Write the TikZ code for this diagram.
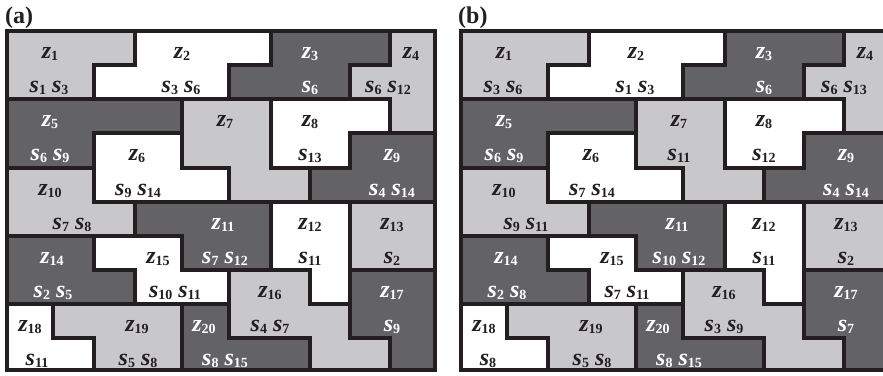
\documentclass[tikz,border=0pt]{standalone}
\usepackage{fontspec}
\setmainfont{Liberation Serif}
\definecolor{ink}{RGB}{35,31,32}
\definecolor{cellLight}{RGB}{200,200,202}
\definecolor{cellDark}{RGB}{99,99,101}

% letter with subscript
\newcommand\zsub[2]{\textit{#1}\raisebox{-2.5pt}{\fontsize{14}{14}\selectfont #2}}
\newcommand\zlab[1]{\zsub{z}{#1}}
\newcommand\slab[1]{\zsub{s}{#1}}

% grid corners of one panel
\newcommand\setgrid{%
  \foreach \c/\x in {0/7,1/53,2/94,3/135,4/182,5/229,6/271,7/310,8/350,9/390,10/435}
    \foreach \r/\y in {0/31,1/65,2/99,3/133,4/168,5/202,6/236,7/270,8/304,9/338,10/370}
      \coordinate (g\c-\r) at (\x,\y);}

% zones z1..z20
\def\regions{%
  cellLight/(g0-0)--(g3-0)--(g3-1)--(g2-1)--(g2-2)--(g0-2),
  white/(g3-0)--(g6-0)--(g6-1)--(g5-1)--(g5-2)--(g2-2)--(g2-1)--(g3-1),
  cellDark/(g6-0)--(g9-0)--(g9-1)--(g8-1)--(g8-2)--(g5-2)--(g5-1)--(g6-1),
  cellLight/(g9-0)--(g10-0)--(g10-3)--(g9-3)--(g9-2)--(g8-2)--(g8-1)--(g9-1),
  cellDark/(g0-2)--(g4-2)--(g4-3)--(g2-3)--(g2-4)--(g0-4),
  white/(g2-3)--(g4-3)--(g4-4)--(g5-4)--(g5-5)--(g2-5),
  cellLight/(g4-2)--(g6-2)--(g6-4)--(g7-4)--(g7-5)--(g5-5)--(g5-4)--(g4-4),
  white/(g6-2)--(g9-2)--(g9-3)--(g8-3)--(g8-4)--(g6-4),
  cellDark/(g8-3)--(g10-3)--(g10-5)--(g7-5)--(g7-4)--(g8-4),
  cellLight/(g0-4)--(g2-4)--(g2-5)--(g3-5)--(g3-6)--(g0-6),
  cellDark/(g3-5)--(g6-5)--(g6-7)--(g4-7)--(g4-6)--(g3-6),
  white/(g6-5)--(g8-5)--(g8-8)--(g7-8)--(g7-7)--(g6-7),
  cellLight/(g8-5)--(g10-5)--(g10-7)--(g8-7),
  cellDark/(g0-6)--(g2-6)--(g2-7)--(g3-7)--(g3-8)--(g0-8),
  white/(g2-6)--(g4-6)--(g4-7)--(g5-7)--(g5-8)--(g3-8)--(g3-7)--(g2-7),
  cellLight/(g5-7)--(g7-7)--(g7-8)--(g8-8)--(g8-9)--(g9-9)--(g9-10)--(g7-10)--(g7-9)--(g5-9),
  cellDark/(g8-7)--(g10-7)--(g10-10)--(g9-10)--(g9-9)--(g8-9),
  white/(g0-8)--(g1-8)--(g1-9)--(g2-9)--(g2-10)--(g0-10),
  cellLight/(g1-8)--(g4-8)--(g4-10)--(g2-10)--(g2-9)--(g1-9),
  cellDark/(g4-8)--(g5-8)--(g5-9)--(g7-9)--(g7-10)--(g4-10)}

\newcommand\drawmap{%
  \foreach \shade/\pts in \regions {\fill[\shade] \pts -- cycle;}
  \foreach \shade/\pts in \regions {\draw[wall] \pts -- cycle;}}

% zone names, same in both panels
\newcommand\zlabels[1]{%
  \foreach \n/\x/\y/\sty in {1/50/58/lbl,2/182/58/lbl,3/310/58/lbldark,4/411/58/lbl,
      5/50/126/lbldark,6/137/160/lbl,7/225/126/lbl,8/310/126/lbl,9/392/160/lbldark,
      10/50/195/lbl,11/223/229/lbldark,12/310/229/lbl,13/392/229/lbl,
      14/52/263/lbldark,15/158/263/lbl,16/270/297/lbl,17/392/297/lbldark,
      18/30/331/lbl,19/137/331/lbl,20/204/331/lbldark}
    \node[\sty] (#1-z\n) at (\x,\y) {\zlab{\n}};}

\begin{document}
\begin{tikzpicture}[x=1pt,y=-1pt,
  wall/.style={draw=ink,line width=4.6pt},
  lbl/.style={anchor=base,inner sep=0pt,text=ink,font=\fontsize{24}{24}\selectfont\bfseries},
  lbldark/.style={lbl,text=white},
  paneltag/.style={anchor=base west,inner sep=0pt,text=ink,font=\fontsize{24}{24}\selectfont\bfseries}]
\useasboundingbox (0,0) rectangle (883,375);
\clip (0,0) rectangle (883,375);
\fill[white] (0,0) rectangle (883,375);

% panel (a)
\begin{scope}
  \setgrid
  \drawmap
  \node[paneltag] (pa) at (5,23) {(a)};
  \zlabels{a}
  \foreach \n/\x/\y/\sty/\t in {1/49/92/lbl/\slab{1}\ \slab{3},2/181/92/lbl/\slab{3}\ \slab{6},
      3/310/92/lbldark/\slab{6},4/388/92/lbl/\slab{6}\ \slab{12},5/50/160/lbldark/\slab{6}\ \slab{9},
      6/138/195/lbl/\slab{9}\ \slab{14},8/310/160/lbl/\slab{13},9/392/195/lbldark/\slab{4}\ \slab{14},
      10/72/229/lbl/\slab{7}\ \slab{8},11/225/263/lbldark/\slab{7}\ \slab{12},12/310/263/lbl/\slab{11},
      13/392/263/lbl/\slab{2},14/53/297/lbldark/\slab{2}\ \slab{5},15/175/297/lbl/\slab{10}\ \slab{11},
      16/270/331/lbl/\slab{4}\ \slab{7},17/392/331/lbldark/\slab{9},18/37/365/lbl/\slab{11},
      19/138/365/lbl/\slab{5}\ \slab{8},20/225/365/lbldark/\slab{8}\ \slab{15}}
    \node[\sty] (a-s\n) at (\x,\y) {\t};
\end{scope}

% panel (b)
\begin{scope}[xshift=454pt]
  \setgrid
  \drawmap
  \node[paneltag] (pb) at (4,23) {(b)};
  \zlabels{b}
  \foreach \n/\x/\y/\sty/\t in {1/49/92/lbl/\slab{3}\ \slab{6},2/181/92/lbl/\slab{1}\ \slab{3},
      3/310/92/lbldark/\slab{6},4/390/92/lbl/\slab{6}\ \slab{13},5/50/160/lbldark/\slab{6}\ \slab{9},
      6/138/195/lbl/\slab{7}\ \slab{14},7/225/160/lbl/\slab{11},8/310/160/lbl/\slab{12},
      9/392/195/lbldark/\slab{4}\ \slab{14},10/72/229/lbl/\slab{9}\ \slab{11},
      11/225/263/lbldark/\slab{10}\ \slab{12},12/310/263/lbl/\slab{11},13/392/263/lbl/\slab{2},
      14/53/297/lbldark/\slab{2}\ \slab{8},15/173/297/lbl/\slab{7}\ \slab{11},
      16/270/331/lbl/\slab{3}\ \slab{9},17/392/331/lbldark/\slab{7},18/34/365/lbl/\slab{8},
      19/138/365/lbl/\slab{5}\ \slab{8},20/225/365/lbldark/\slab{8}\ \slab{15}}
    \node[\sty] (b-s\n) at (\x,\y) {\t};
\end{scope}
\end{tikzpicture}
\end{document}
